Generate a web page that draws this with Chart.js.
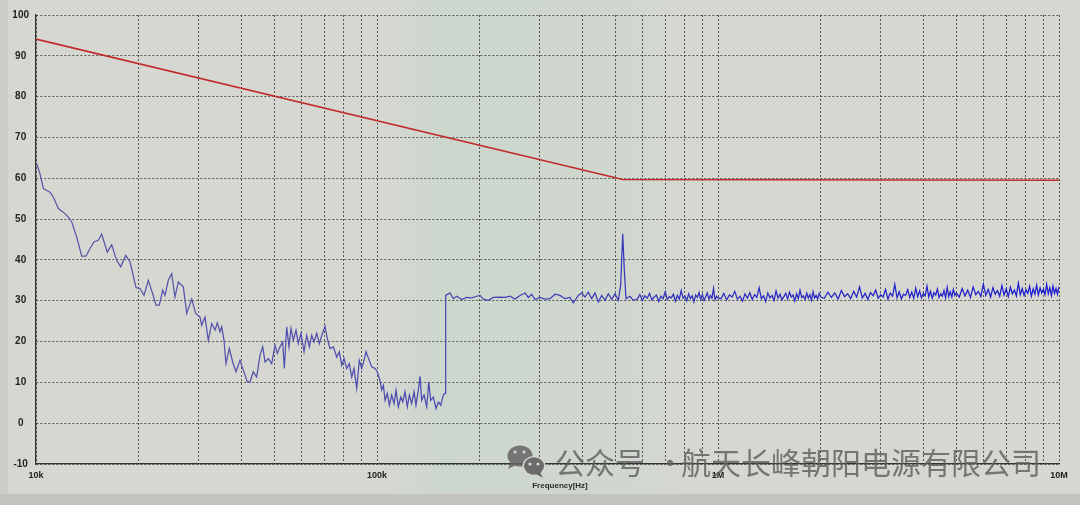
<!DOCTYPE html>
<html><head><meta charset="utf-8">
<script src="https://cdn.jsdelivr.net/npm/chart.js@4.4.0/dist/chart.umd.min.js"></script>
<style>html,body{margin:0;padding:0;background:#d6d6d1;overflow:hidden}canvas{display:block}</style>
</head><body>
<canvas id="c" width="1080" height="505"></canvas>
<script>
// ---- DATA (frequency in kHz, level in dBuV) ----
// Band A sweep (10 kHz - 150 kHz)
const bandAFreqKHz = [10.05,10.27,10.51,10.99,11.24,11.63,12.02,12.44,12.73,13.16,13.62,14.02,14.40,14.79,15.23,15.58,16.18,16.67,17.24,17.72,18.33,18.87,19.65,20.18,20.74,21.35,21.99,22.49,22.99,23.53,23.89,24.43,25.00,25.56,26.14,27.04,27.67,28.62,29.40,30.27,
30.61,31.30,32.01,32.75,33.49,34.02,34.64,35.04,35.59,36.07,36.89,37.74,38.59,39.65,40.54,41.65,42.42,43.38,44.38,45.38,46.22,46.94,48.00,49.11,50.22,51.01,51.95,52.90,53.48,54.35,55.20,55.95,56.83,57.87,58.78,59.86,61.09,62.21,63.31,64.35,65.35,66.56,67.74,68.84,70.39,71.49,72.81,74.45,76.18,77.53,78.80,80.03,81.50,82.95,84.30,85.62,87.20,88.74,90.19,91.60,92.85,94.30,
96.49,98.66,100.2,102.0,103.2,104.4,105.6,107.2,108.7,110.4,112.2,113.7,115.5,117.4,119.0,120.8,122.7,124.4,126.4,128.4,130.1,132.2,133.7,135.2,137.4,139.9,141.8,143.7,146.3,149.0,151.3,153.8,156.5,158.3];
const bandADb = [63.6,61.1,57.5,56.6,55.4,52.6,51.7,50.5,49.3,45.6,40.9,40.9,42.8,44.4,44.8,46.3,41.9,43.7,39.9,38.3,41.1,39.5,33.2,33.0,31.3,35.0,31.7,28.9,28.9,32.6,31.3,35.0,36.6,30.9,34.6,33.4,26.9,30.4,26.9,26.0,
24.0,26.0,20.3,24.4,22.8,24.6,22.4,23.6,20.3,14.6,18.3,15.0,12.6,15.4,13.0,10.1,10.1,12.6,11.3,16.6,18.7,15.0,15.8,14.6,19.1,17.1,18.7,19.9,13.4,23.6,18.7,23.2,20.3,22.8,19.5,22.0,17.5,21.5,18.7,21.5,19.9,22.0,19.5,21.5,23.7,20.7,18.3,18.7,16.2,17.5,14.2,15.8,13.4,14.6,11.3,13.4,8.5,15.4,13.4,15.4,17.5,16.0,
13.8,13.4,12.6,10.5,8.1,9.3,5.6,7.3,4.4,6.9,4.8,8.1,4.0,6.4,5.2,7.7,4.0,6.9,4.8,7.7,4.4,8.1,11.5,5.6,6.9,4.0,10.1,5.6,6.4,3.6,5.2,4.4,6.9,7.3];

// Band B sweep (150 kHz - 580 kHz)
const bandBFreqKHz = [159.0,163.7,167.4,171.3,177.2,183.3,189.6,196.1,200.5,205.0,212.1,219.3,229.5,237.4,245.5,253.9,262.7,271.7,277.8,284.3,290.7,300.6,311.0,321.6,332.7,344.1,355.9,368.1,376.4,389.4,398.4,407.4,416.6,426.2,435.8,445.7,456.0,466.3,476.8,487.9,498.9,510.1,518.4,525.5,531.2,537.3,552.0,564.5];
const bandBDb = [31.3,31.9,30.5,31.1,30.3,30.8,30.7,31.1,31.3,30.4,30.1,30.8,30.9,30.8,31.1,30.4,31.3,31.9,30.8,31.6,30.3,30.8,30.4,30.5,31.6,31.3,30.5,30.8,29.5,31.3,31.9,30.9,32.1,30.5,31.9,29.7,31.3,30.1,31.7,30.3,31.7,30.1,33.8,46.4,37.5,30.5,31.1,30.1];

// 580 kHz - 1 MHz
const bandC1FreqKHz = [580,590,600,610,620,630,640,650,660,670,680,690,700,710,720,730,740,750,760,770,780,790,800,810,820,830,840,850,860,870,880,890,900,910,920,930,940,950,960,970,980,990,1000];
const bandC1Db = [30.4,31.5,30.1,31.2,30.6,31.8,30.2,30.9,31.4,29.8,31.1,30.5,32.2,30.3,31.0,30.7,31.6,29.9,31.3,30.4,32.5,30.6,31.1,30.0,31.7,30.5,31.2,29.7,31.4,30.8,32.0,30.3,31.5,30.1,31.0,31.9,30.4,31.3,30.6,33.0,30.2,31.1,30.7];

// 1 MHz - 2 MHz
const bandC2FreqKHz = [1020,1040,1060,1080,1100,1120,1140,1160,1180,1200,1220,1240,1260,1280,1300,1320,1340,1360,1380,1400,1420,1440,1460,1480,1500,1520,1540,1560,1580,1600,1620,1640,1660,1680,1700,1720,1740,1760,1780,1800,1820,1840,1860,1880,1900,1920,1940,1960,1980,2000];
const bandC2Db = [30.5,31.8,30.2,31.4,30.9,32.3,30.4,31.1,29.9,31.7,30.6,32.0,30.3,31.5,30.8,33.2,30.5,31.2,29.8,31.9,30.7,31.3,30.1,32.4,30.6,31.6,30.2,31.0,31.8,30.4,32.1,30.9,31.4,29.9,31.7,30.5,32.6,30.8,31.2,30.3,31.9,30.6,31.5,30.1,32.2,30.7,31.3,30.4,31.8,30.9];

// 2 MHz - 5 MHz
const bandC3FreqKHz = [2050,2100,2150,2200,2250,2300,2350,2400,2450,2500,2550,2600,2650,2700,2750,2800,2850,2900,2950,3000,3050,3100,3150,3200,3250,3300,3350,3400,3450,3500,3550,3600,3650,3700,3750,3800,3850,3900,3950,4000,4050,4100,4150,4200,4250,4300,4350,4400,4450,4500,4550,4600,4650,4700,4750,4800,4850,4900,4950,5000];
const bandC3Db = [30.6,32.1,30.8,31.9,30.4,32.5,31.0,31.7,30.5,32.3,30.9,33.4,30.7,31.8,30.3,32.0,31.2,32.6,30.6,31.5,30.9,32.8,30.4,31.9,31.1,34.0,30.7,32.2,30.5,31.6,31.3,32.7,30.8,32.1,30.6,33.1,31.0,32.4,30.7,31.8,31.2,33.6,30.9,32.3,30.6,32.0,31.4,32.9,30.8,31.7,31.1,32.5,30.7,33.3,31.0,32.2,30.9,32.8,31.3,31.9];

// 5 MHz - 10 MHz
const bandC4FreqKHz = [5100,5200,5300,5400,5500,5600,5700,5800,5900,6000,6100,6200,6300,6400,6500,6600,6700,6800,6900,7000,7100,7200,7300,7400,7500,7600,7700,7800,7900,8000,8100,8200,8300,8400,8500,8600,8700,8800,8900,9000,9100,9200,9300,9400,9500,9600,9700,9800,9900,10000];
const bandC4Db = [30.9,33.0,31.2,32.6,30.8,33.4,31.5,32.3,31.0,34.1,31.3,32.8,30.9,33.2,31.6,32.5,31.1,33.7,31.4,32.9,31.0,33.3,31.7,32.6,31.2,34.3,31.5,33.0,31.3,32.7,31.8,33.5,31.1,32.9,31.6,33.8,31.4,33.1,31.9,32.8,31.5,34.0,31.7,33.2,31.3,33.6,31.8,33.0,31.6,33.4];

// Limit line
const limitFreqKHz = [10, 525.5, 10000];
const limitDb = [94.1, 59.7, 59.5];

// Axis ticks
const gridFreqKHz = [10,20,30,40,50,60,70,80,90,100,200,300,400,500,600,700,800,900,1000,2000,3000,4000,5000,6000,7000,8000,9000,10000];
const xTickLabels = {10:'10k', 100:'100k', 1000:'1M', 10000:'10M'};
const yMin = -10, yMax = 100, yStep = 10;
const xTitle = 'Frequency[Hz]';
const watermarkA = '公众号';
const watermarkDot = '·';
const watermarkB = '航天长峰朝阳电源有限公司';

// ---- build ----
const measFreq = [].concat(bandAFreqKHz, bandBFreqKHz, bandC1FreqKHz, bandC2FreqKHz, bandC3FreqKHz, bandC4FreqKHz);
const measDb = [].concat(bandADb, bandBDb, bandC1Db, bandC2Db, bandC3Db, bandC4Db);
const measData = measFreq.map((f, i) => ({x: f, y: measDb[i]}));
const limitData = limitFreqKHz.map((f, i) => ({x: f, y: limitDb[i]}));

const BG = '#d7d7d2';
const bgPlugin = {
  id: 'bg',
  beforeDraw(chart) {
    const ctx = chart.ctx;
    ctx.save();
    ctx.fillStyle = BG;
    ctx.fillRect(0, 0, chart.width, chart.height);
    ctx.fillStyle = '#cdcdc8';
    ctx.fillRect(0, 0, 8, chart.height);
    ctx.fillStyle = '#c2c2bf';
    ctx.fillRect(0, 494, chart.width, 11);
    // moire tint in middle of screen photo
    const g = ctx.createLinearGradient(370, 0, 740, 0);
    g.addColorStop(0, 'rgba(150,215,175,0)');
    g.addColorStop(0.2, 'rgba(150,215,175,0.16)');
    g.addColorStop(0.6, 'rgba(150,215,175,0.12)');
    g.addColorStop(1, 'rgba(150,215,175,0)');
    ctx.fillStyle = g;
    ctx.fillRect(370, 0, 370, 494);
    ctx.restore();
  },
  afterDraw(chart) {
    const ctx = chart.ctx;
    ctx.save();
    ctx.fillStyle = '#2a2a2a';
    ctx.font = 'bold 8px "Liberation Sans", Arial, sans-serif';
    ctx.textAlign = 'center';
    ctx.textBaseline = 'middle';
    ctx.fillText(xTitle, 560, 486);
    // watermark icon
    ctx.fillStyle = 'rgba(100,100,100,0.85)';
    ctx.beginPath(); ctx.ellipse(520, 456, 12.5, 10.5, 0, 0, Math.PI * 2); ctx.fill();
    ctx.beginPath(); ctx.moveTo(511, 462); ctx.lineTo(508, 469); ctx.lineTo(516, 465); ctx.fill();
    ctx.fillStyle = BG;
    ctx.beginPath(); ctx.ellipse(534, 466, 11.5, 10, 0, 0, Math.PI * 2); ctx.fill();
    ctx.fillStyle = 'rgba(95,95,95,0.9)';
    ctx.beginPath(); ctx.ellipse(534, 466, 10, 8.8, 0, 0, Math.PI * 2); ctx.fill();
    ctx.beginPath(); ctx.moveTo(540, 472); ctx.lineTo(543, 478); ctx.lineTo(536, 474); ctx.fill();
    ctx.fillStyle = BG;
    [[515,452],[524,452],[530,464],[538,464]].forEach(p => { ctx.beginPath(); ctx.arc(p[0], p[1], 1.6, 0, Math.PI * 2); ctx.fill(); });
    // watermark text
    ctx.fillStyle = 'rgba(95,95,95,0.82)';
    ctx.font = '30px "Noto Sans CJK SC", sans-serif';
    ctx.textAlign = 'left';
    ctx.textBaseline = 'alphabetic';
    ctx.fillText(watermarkA, 555, 474);
    ctx.fillText(watermarkDot, 655, 474);
    ctx.fillText(watermarkB, 681, 474);
    ctx.restore();
  }
};

new Chart(document.getElementById('c'), {
  type: 'line',
  data: {
    datasets: [
      {
        label: 'Limit',
        data: limitData,
        borderColor: '#c02a2c',
        borderWidth: 1.6,
        pointRadius: 0,
        tension: 0,
        order: 1
      },
      {
        label: 'Measurement',
        data: measData,
        borderColor: (c) => {
          const a = c.chart.chartArea;
          if (!a) return '#3434b0';
          const g = c.chart.ctx.createLinearGradient(a.left, 0, a.right, 0);
          g.addColorStop(0, '#5a5aa6');
          g.addColorStop(0.4, '#4a4ab2');
          g.addColorStop(0.65, '#2e2ebe');
          g.addColorStop(1, '#1a1ad0');
          return g;
        },
        borderWidth: 1.25,
        pointRadius: 0,
        tension: 0,
        order: 2
      }
    ]
  },
  options: {
    responsive: false,
    animation: false,
    devicePixelRatio: 1,
    layout: { padding: { top: 15, right: 21, left: 0, bottom: 0 } },
    plugins: { legend: { display: false }, tooltip: { enabled: false } },
    scales: {
      x: {
        type: 'logarithmic',
        min: 10,
        max: 10000,
        afterBuildTicks: (s) => { s.ticks = gridFreqKHz.map(v => ({ value: v })); },
        afterFit: (s) => { s.height = 41; },
        ticks: {
          autoSkip: false,
          maxRotation: 0,
          padding: 6,
          color: '#222',
          font: { family: '"Liberation Sans", Arial, sans-serif', size: 9, weight: 'bold' },
          callback: (v) => xTickLabels[v] || ''
        },
        grid: { color: 'rgba(55,55,55,0.8)', lineWidth: 1, drawTicks: false },
        border: { display: true, color: '#333', width: 1.3, dash: [2, 2] }
      },
      y: {
        min: yMin,
        max: yMax,
        afterFit: (s) => { s.width = 36; },
        ticks: {
          stepSize: yStep,
          padding: 7,
          crossAlign: 'center',
          color: '#222',
          font: { family: '"Liberation Sans", Arial, sans-serif', size: 10, weight: 'bold' }
        },
        grid: { color: 'rgba(55,55,55,0.8)', lineWidth: 1, drawTicks: false },
        border: { display: true, color: '#333', width: 1.3, dash: [2, 2] }
      }
    }
  },
  plugins: [bgPlugin]
});
</script>
</body></html>
